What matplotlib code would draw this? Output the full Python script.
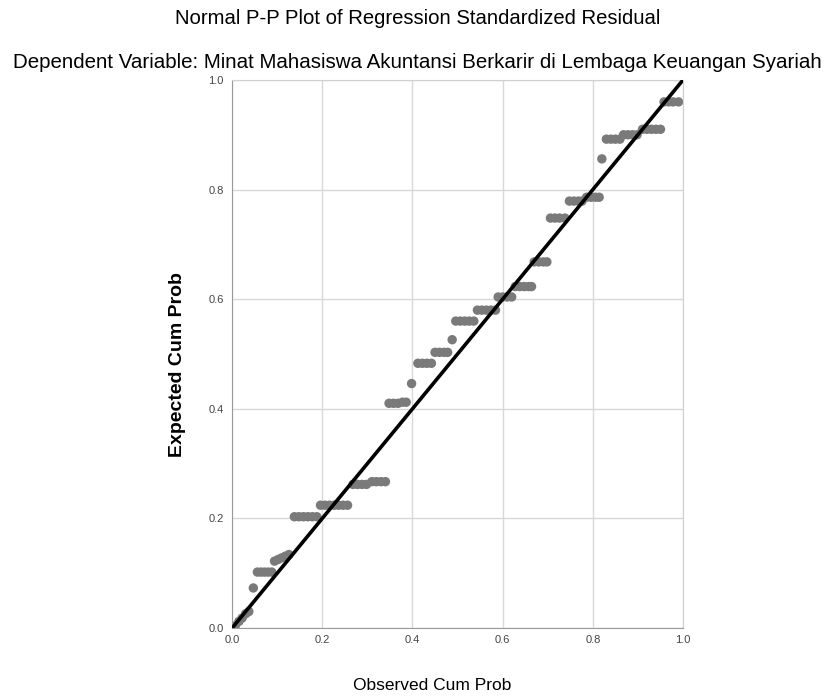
import matplotlib
matplotlib.use("Agg")
import matplotlib.pyplot as plt

# observed / expected cumulative probabilities
observed = [0.007, 0.015, 0.022, 0.030, 0.037, 0.047,
            0.056, 0.064, 0.072, 0.080, 0.088,
            0.094, 0.102, 0.110, 0.118, 0.126,
            0.138, 0.148, 0.158, 0.168, 0.178, 0.188,
            0.196, 0.206, 0.216, 0.226, 0.236, 0.246, 0.256,
            0.268, 0.278, 0.288, 0.298,
            0.310, 0.320, 0.330, 0.340,
            0.348, 0.358, 0.368, 0.378, 0.386,
            0.398,
            0.412, 0.422, 0.432, 0.442,
            0.450, 0.460, 0.470, 0.478,
            0.488,
            0.496, 0.506, 0.516, 0.526, 0.536,
            0.544, 0.554, 0.564, 0.574, 0.584,
            0.590, 0.600, 0.610, 0.620,
            0.628, 0.638, 0.648, 0.658, 0.664,
            0.670, 0.680, 0.690, 0.698,
            0.706, 0.716, 0.726, 0.738,
            0.748, 0.758, 0.768, 0.776,
            0.786, 0.796, 0.806, 0.814,
            0.820,
            0.830, 0.840, 0.850, 0.860,
            0.868, 0.878, 0.888, 0.898,
            0.910, 0.920, 0.930, 0.940, 0.950,
            0.958, 0.968, 0.978, 0.990]
expected = [0.004, 0.012, 0.018, 0.026, 0.030, 0.073,
            0.102, 0.102, 0.102, 0.102, 0.102,
            0.122, 0.125, 0.128, 0.131, 0.134,
            0.203, 0.203, 0.203, 0.203, 0.203, 0.203,
            0.224, 0.224, 0.224, 0.224, 0.224, 0.224, 0.224,
            0.262, 0.262, 0.262, 0.262,
            0.267, 0.267, 0.267, 0.267,
            0.410, 0.410, 0.410, 0.412, 0.412,
            0.446,
            0.483, 0.483, 0.483, 0.483,
            0.503, 0.503, 0.503, 0.503,
            0.526,
            0.560, 0.560, 0.560, 0.560, 0.560,
            0.580, 0.580, 0.580, 0.580, 0.580,
            0.604, 0.604, 0.604, 0.604,
            0.623, 0.623, 0.623, 0.623, 0.623,
            0.668, 0.668, 0.668, 0.668,
            0.748, 0.748, 0.748, 0.748,
            0.779, 0.779, 0.779, 0.779,
            0.786, 0.786, 0.786, 0.786,
            0.856,
            0.892, 0.892, 0.892, 0.892,
            0.900, 0.900, 0.900, 0.900,
            0.910, 0.910, 0.910, 0.910, 0.910,
            0.960, 0.960, 0.960, 0.960]

ticks = [0.0, 0.2, 0.4, 0.6, 0.8, 1.0]
tick_labels = ["0.0", "0.2", "0.4", "0.6", "0.8", "1.0"]

sans = ["Liberation Sans Narrow", "Liberation Sans", "DejaVu Sans"]

fig = plt.figure(figsize=(8.35, 6.99), dpi=100)
ax = fig.add_axes([0.278, 0.1016, 0.540, 0.784])

ax.plot([0, 1], [0, 1], color="black", linewidth=2.6, zorder=3)
ax.scatter(observed, expected, s=46, color="#7a7a7a", edgecolors="none", zorder=2)

ax.set_xlim(0, 1)
ax.set_ylim(0, 1)
ax.set_xticks(ticks)
ax.set_yticks(ticks)
ax.set_xticklabels(tick_labels, family=sans, fontsize=8, color="#444444")
ax.set_yticklabels(tick_labels, family=sans, fontsize=8, color="#444444")
ax.tick_params(axis="x", length=0, pad=5)
ax.tick_params(axis="y", length=0, pad=6)
ax.grid(True, color="#d8d8d8", linewidth=1)
ax.set_axisbelow(True)
for side in ["top", "right"]:
    ax.spines[side].set_color("#d0d0d0")
for side in ["left", "bottom"]:
    ax.spines[side].set_color("#9a9a9a")

fig.text(0.213, 0.478, "Expected Cum Prob", rotation=90, ha="center", va="center",
         fontsize=14, fontweight="bold", family=sans)
fig.text(0.517, 0.019, "Observed Cum Prob", ha="center", va="center",
         fontsize=12.5, family=sans)

fig.text(0.5, 0.974, "Normal P-P Plot of Regression Standardized Residual",
         ha="center", va="center", fontsize=14.6, family=sans)
fig.text(0.5, 0.911,
         "Dependent Variable: Minat Mahasiswa Akuntansi Berkarir di Lembaga Keuangan Syariah",
         ha="center", va="center", fontsize=14.8, family=sans)

fig.savefig("out.png", dpi=100)
